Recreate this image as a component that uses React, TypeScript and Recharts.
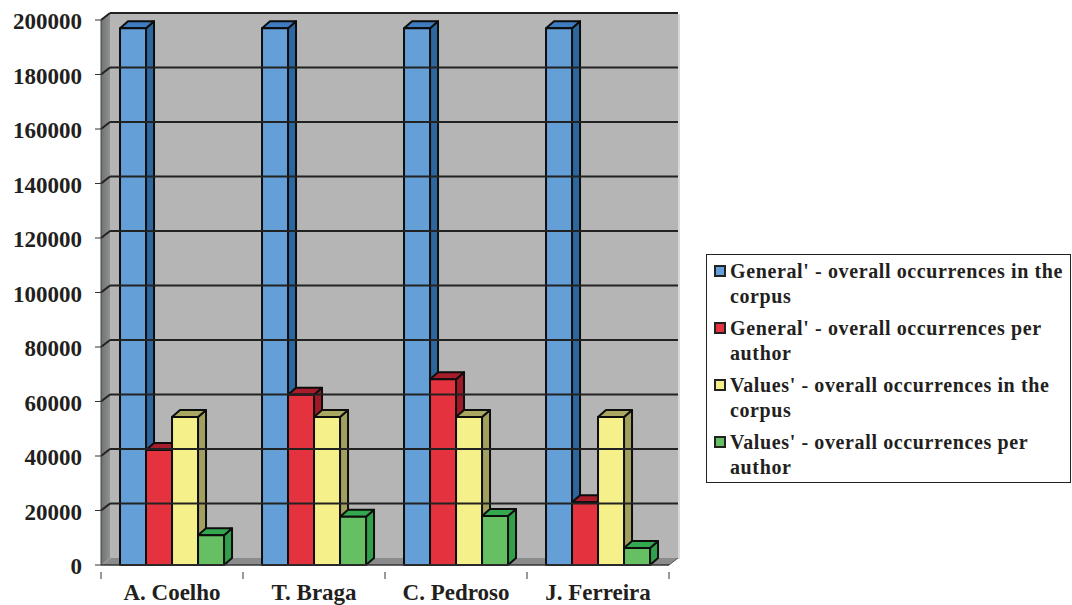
import React from 'react';
import { BarChart, Bar, XAxis, YAxis, ReferenceLine, Legend, ReferenceArea } from 'recharts';

const authors = ['A. Coelho', 'T. Braga', 'C. Pedroso', 'J. Ferreira'];
const generalCorpus = [197000, 197000, 197000, 197000];
const generalAuthor = [42200, 62500, 68200, 23000];
const valuesCorpus = [54300, 54300, 54300, 54300];
const valuesAuthor = [10900, 17700, 18000, 6200];
const yTicks = [0, 20000, 40000, 60000, 80000, 100000, 120000, 140000, 160000, 180000, 200000];

const tableData = authors.map((author, i) => ({
  author,
  generalCorpus: generalCorpus[i],
  generalAuthor: generalAuthor[i],
  valuesCorpus: valuesCorpus[i],
  valuesAuthor: valuesAuthor[i],
}));

const INK = '#231f20';
const SERIF = '"Liberation Serif", serif';
const DEPTH_X = 9;
const DEPTH_Y = 7;
const BAR_DEPTH_X = 8;
const BAR_DEPTH_Y = 7;
const CATEGORY_STEP = 142;

// front / top / side colours of each column
const blueFaces = { front: '#659fd8', top: '#3f7cc0', side: '#2c689f' };
const redFaces = { front: '#e5323f', top: '#a71d2c', side: '#9d1a28' };
const yellowFaces = { front: '#f5f08a', top: '#aaa761', side: '#a2a05f' };
const greenFaces = { front: '#66bf62', top: '#34a84e', side: '#30a04a' };

const column = (faces: { front: string; top: string; side: string }) => (props: any) => {
  const { x, y, width, height } = props;
  const r = x + width;
  const b = y + height;
  return (
    <g stroke="#0d0d0d" strokeWidth={2} strokeLinejoin="round">
      <polygon
        points={`${r},${y} ${r + BAR_DEPTH_X},${y - BAR_DEPTH_Y} ${r + BAR_DEPTH_X},${b - BAR_DEPTH_Y} ${r},${b}`}
        fill={faces.side}
      />
      <polygon
        points={`${x},${y} ${x + BAR_DEPTH_X},${y - BAR_DEPTH_Y} ${r + BAR_DEPTH_X},${y - BAR_DEPTH_Y} ${r},${y}`}
        fill={faces.top}
      />
      <rect x={x} y={y} width={width} height={height} fill={faces.front} />
    </g>
  );
};

// back wall, left wall and floor of the 3D box
const Walls = (props: any) => {
  const { x, y, width, height } = props;
  const r = x + width;
  const b = y + height;
  return (
    <g>
      <defs>
        <linearGradient id="sideWall" x1="0" y1="0" x2="1" y2="0">
          <stop offset="0" stopColor="#6f7172" />
          <stop offset="1" stopColor="#8f9191" />
        </linearGradient>
      </defs>
      <rect x={r + DEPTH_X} y={y - DEPTH_Y + 1} width={2} height={height} fill="#d9d9d9" />
      <rect x={x + DEPTH_X} y={y - DEPTH_Y} width={width} height={height} fill="#b4b5b4" />
      <polygon
        points={`${x},${y} ${x + DEPTH_X},${y - DEPTH_Y} ${x + DEPTH_X},${b - DEPTH_Y} ${x},${b}`}
        fill="url(#sideWall)"
      />
      <polygon
        points={`${x},${b} ${x + DEPTH_X},${b - DEPTH_Y} ${r + DEPTH_X},${b - DEPTH_Y} ${r},${b}`}
        fill="#8a8b8b"
      />
      <line x1={r} y1={b} x2={r + DEPTH_X} y2={b - DEPTH_Y} stroke="#555" strokeWidth={1} />
    </g>
  );
};

// gridline runs across the back wall and steps down the left wall
const GridLine = (props: any) => {
  const { x1, x2, y1 } = props;
  return (
    <g stroke="#222" strokeWidth={2} fill="none">
      <line x1={x1} y1={y1} x2={x1 + DEPTH_X} y2={y1 - DEPTH_Y} />
      <line x1={x1 + DEPTH_X} y1={y1 - DEPTH_Y} x2={x2 + DEPTH_X} y2={y1 - DEPTH_Y} />
    </g>
  );
};

// x labels sit mid-category, tick marks on the category boundaries
const AuthorTick = (props: any) => {
  const { x, y, payload, index } = props;
  const left = x - CATEGORY_STEP / 2;
  return (
    <g>
      <line x1={left} y1={y - 1} x2={left} y2={y + 6} stroke="#333" strokeWidth={1} />
      {index === authors.length - 1 && (
        <line x1={left + CATEGORY_STEP} y1={y - 1} x2={left + CATEGORY_STEP} y2={y + 6} stroke="#333" strokeWidth={1} />
      )}
      <text x={x} y={y + 27} textAnchor="middle" fill={INK} fontFamily={SERIF} fontWeight="bold" fontSize={23}>
        {payload.value}
      </text>
    </g>
  );
};

const legendLines: Record<string, string[]> = {
  generalCorpus: ["General' - overall occurrences in the", 'corpus'],
  generalAuthor: ["General' - overall occurrences per", 'author'],
  valuesCorpus: ["Values' - overall occurrences in the", 'corpus'],
  valuesAuthor: ["Values' - overall occurrences per", 'author'],
};

const LegendBox = (props: any) => (
  <div
    style={{
      boxSizing: 'border-box',
      width: 365,
      height: 229,
      background: '#fff',
      border: '1px solid #222',
      padding: '4px 0 0 7px',
      fontFamily: SERIF,
      fontWeight: 'bold',
      fontSize: 20,
      letterSpacing: 0.62,
      color: INK,
      lineHeight: '25px',
    }}
  >
    {props.payload.map((item: any) => (
      <div key={item.dataKey} style={{ position: 'relative', paddingLeft: 16, marginBottom: 7, whiteSpace: 'nowrap' }}>
        <span
          style={{
            position: 'absolute',
            left: 0,
            top: 6,
            width: 8,
            height: 8,
            background: item.color,
            border: '2px solid #222',
          }}
        />
        {legendLines[item.dataKey].map((line) => (
          <div key={line}>{line}</div>
        ))}
      </div>
    ))}
  </div>
);

export default function App() {
  return (
    <div style={{ position: 'absolute', left: 0, top: 0, width: 1072, height: 605, background: '#fff' }}>
      <BarChart
        width={1072}
        height={605}
        data={tableData}
        margin={{ top: 20, right: 403, bottom: 0, left: 0 }}
        barCategoryGap="13.4%"
        barGap={0}
      >
        <ReferenceArea y1={0} y2={200000} shape={Walls} ifOverflow="visible" />
        {yTicks.slice(1).map((t) => (
          <ReferenceLine key={t} y={t} shape={GridLine} ifOverflow="visible" />
        ))}
        <XAxis
          dataKey="author"
          height={40}
          axisLine={{ stroke: '#333', strokeWidth: 1.5 }}
          tickLine={false}
          tick={AuthorTick}
          interval={0}
        />
        <YAxis
          width={101}
          domain={[0, 200000]}
          ticks={yTicks}
          interval={0}
          axisLine={{ stroke: '#444', strokeWidth: 1 }}
          tickLine={{ stroke: '#333' }}
          tickSize={6}
          tickMargin={13}
          tick={{ fill: INK, fontFamily: SERIF, fontWeight: 'bold', fontSize: 23, dy: 1 }}
        />
        <Legend
          layout="vertical"
          align="center"
          verticalAlign="middle"
          content={LegendBox}
          wrapperStyle={{ left: 706, top: 254, width: 365, height: 229 }}
        />
        <Bar dataKey="generalCorpus" name="General' - overall occurrences in the corpus" fill={blueFaces.front} shape={column(blueFaces)} isAnimationActive={false} />
        <Bar dataKey="generalAuthor" name="General' - overall occurrences per author" fill={redFaces.front} shape={column(redFaces)} isAnimationActive={false} />
        <Bar dataKey="valuesCorpus" name="Values' - overall occurrences in the corpus" fill={yellowFaces.front} shape={column(yellowFaces)} isAnimationActive={false} />
        <Bar dataKey="valuesAuthor" name="Values' - overall occurrences per author" fill={greenFaces.front} shape={column(greenFaces)} isAnimationActive={false} />
      </BarChart>
    </div>
  );
}
